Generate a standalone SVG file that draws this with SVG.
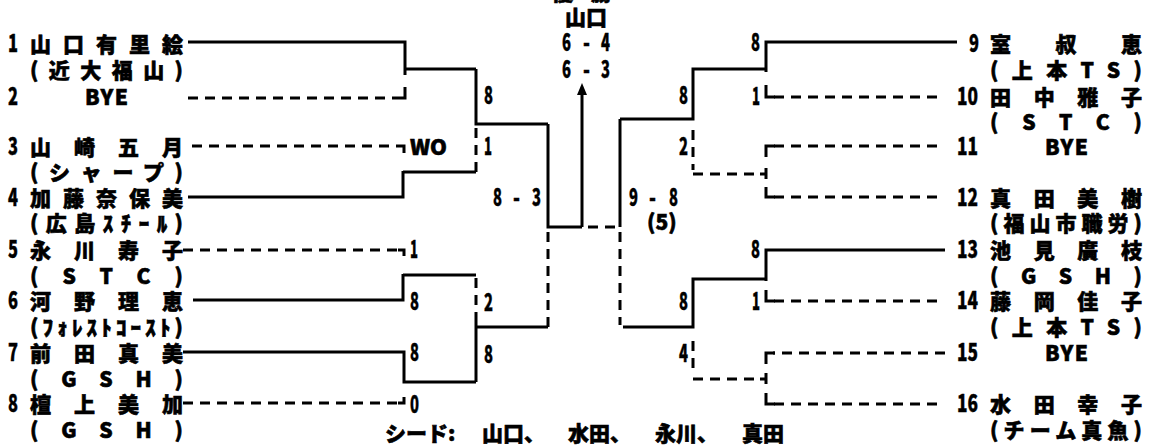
<svg xmlns="http://www.w3.org/2000/svg" width="1156" height="448" viewBox="0 0 1156 448">
<defs>
<style>
.t{font-family:"Noto Sans CJK JP","Noto Sans",sans-serif;font-weight:900;font-size:21px;fill:#000;stroke:#000;stroke-width:0.6}
.n{font-family:"Noto Sans CJK JP","Noto Sans",sans-serif;font-weight:900;font-size:24px;fill:#000;stroke:#000;stroke-width:0.4}
.m{text-anchor:middle}
.s{fill:none;stroke:#000;stroke-width:3}
.d{fill:none;stroke:#000;stroke-width:3;stroke-dasharray:10 7}
</style>
<marker id="arr" viewBox="0 0 12 10" refX="0" refY="5" markerWidth="12" markerHeight="10" markerUnits="userSpaceOnUse" orient="auto">
<path d="M0,0 L12,5 L0,10 Z" fill="#000"/>
</marker>
</defs>
<rect width="1156" height="448" fill="#fff"/>

<g id="connectors">
<path class="s" d="M188,42 H405 V75"/>
<path class="d" d="M188,98 H398"/>
<path class="s" d="M398,98 H405 V87"/>
<path class="s" d="M405,69 H476"/>
<path class="d" d="M192,146 H398"/>
<path class="s" d="M398,146 H404 V153"/>
<path class="s" d="M188,197 H403 V171"/>
<path class="s" d="M403,172 H476"/>
<path class="s" d="M476,69 V124 H548"/>
<path class="d" d="M476,128 V172"/>
<path class="d" d="M183,250 H398"/>
<path class="s" d="M398,250 H404 V256"/>
<path class="s" d="M193,300 H403 V274"/>
<path class="s" d="M403,275 H476"/>
<path class="s" d="M183,352 H404 V382 H476"/>
<path class="d" d="M183,403 H398"/>
<path class="s" d="M398,403 H404 V397"/>
<path class="d" d="M476,278 V320"/>
<path class="s" d="M476,320 V382"/>
<path class="s" d="M476,327 H548"/>
<path class="s" d="M548,124 V227 H582"/>
<path class="d" d="M548,232 V327"/>
<path class="s" d="M582,227 V95" marker-end="url(#arr)"/>
<path class="d" d="M588,227 H620"/>
<path class="s" d="M620,119 V227"/>
<path class="d" d="M620,232 V325"/>
<path class="s" d="M620,119 H693 V69 H766"/>
<path class="s" d="M623,327 H693 V279 H766"/>
<path class="d" d="M693,130 V170"/>
<path class="d" d="M693,341 V375"/>
<path class="s" d="M957,42 H766 V72"/>
<path class="d" d="M937,97 H773"/>
<path class="s" d="M775,97 H766 V85"/>
<path class="d" d="M693,174 H760"/>
<path class="s" d="M760,174 H766 M766,168 V179"/>
<path class="d" d="M937,146 H773"/>
<path class="s" d="M775,146 H766 V157"/>
<path class="d" d="M937,197 H773"/>
<path class="s" d="M775,197 H766 V187"/>
<path class="s" d="M945,250 H766 V281"/>
<path class="d" d="M937,301 H773"/>
<path class="s" d="M775,301 H766 V290"/>
<path class="d" d="M693,379 H760"/>
<path class="s" d="M760,379 H766 M766,373 V384"/>
<path class="d" d="M945,353 H773"/>
<path class="s" d="M775,353 H766 V364"/>
<path class="d" d="M937,404 H773"/>
<path class="s" d="M775,404 H766 V393"/>
</g>

<g id="p1"><text class="n" x="8" y="52" textLength="10" lengthAdjust="spacingAndGlyphs">1</text><text class="t" x="30" y="52" textLength="153" lengthAdjust="spacing">山口有里絵</text><text class="t" x="30" y="78" textLength="153" lengthAdjust="spacing">(近大福山)</text></g>
<g id="p2"><text class="n" x="8" y="105" textLength="10" lengthAdjust="spacingAndGlyphs">2</text><text class="t" x="85" y="105" textLength="43" lengthAdjust="spacing">BYE</text></g>
<g id="p3"><text class="n" x="8" y="155" textLength="10" lengthAdjust="spacingAndGlyphs">3</text><text class="t" x="30" y="155" textLength="153" lengthAdjust="spacing">山崎五月</text><text class="t" x="30" y="180" textLength="153" lengthAdjust="spacing">(シャープ)</text></g>
<g id="p4"><text class="n" x="8" y="206" textLength="10" lengthAdjust="spacingAndGlyphs">4</text><text class="t" x="30" y="206" textLength="153" lengthAdjust="spacing">加藤奈保美</text><text class="t" x="30" y="231" textLength="153" lengthAdjust="spacing">(広島ｽﾁｰﾙ)</text></g>
<g id="p5"><text class="n" x="8" y="258" textLength="10" lengthAdjust="spacingAndGlyphs">5</text><text class="t" x="30" y="258" textLength="153" lengthAdjust="spacing">永川寿子</text><text class="t" x="30" y="284" textLength="153" lengthAdjust="spacing">(STC)</text></g>
<g id="p6"><text class="n" x="8" y="309" textLength="10" lengthAdjust="spacingAndGlyphs">6</text><text class="t" x="30" y="309" textLength="153" lengthAdjust="spacing">河野理恵</text><text class="t" x="30" y="335" textLength="153" lengthAdjust="spacing">(ﾌｫﾚｽﾄｺｰｽﾄ)</text></g>
<g id="p7"><text class="n" x="8" y="361" textLength="10" lengthAdjust="spacingAndGlyphs">7</text><text class="t" x="30" y="361" textLength="153" lengthAdjust="spacing">前田真美</text><text class="t" x="30" y="387" textLength="153" lengthAdjust="spacing">(GSH)</text></g>
<g id="p8"><text class="n" x="8" y="412" textLength="10" lengthAdjust="spacingAndGlyphs">8</text><text class="t" x="30" y="412" textLength="153" lengthAdjust="spacing">檀上美加</text><text class="t" x="30" y="438" textLength="153" lengthAdjust="spacing">(GSH)</text></g>

<g id="p9"><text class="n" x="969" y="52" textLength="10" lengthAdjust="spacingAndGlyphs">9</text><text class="t" x="990" y="52" textLength="152" lengthAdjust="spacing">室叔恵</text><text class="t" x="990" y="78" textLength="152" lengthAdjust="spacing">(上本TS)</text></g>
<g id="p10"><text class="n" x="957" y="105" textLength="21" lengthAdjust="spacingAndGlyphs">10</text><text class="t" x="990" y="105" textLength="152" lengthAdjust="spacing">田中雅子</text><text class="t" x="990" y="130" textLength="152" lengthAdjust="spacing">(STC)</text></g>
<g id="p11"><text class="n" x="957" y="155" textLength="21" lengthAdjust="spacingAndGlyphs">11</text><text class="t" x="1045" y="155" textLength="43" lengthAdjust="spacing">BYE</text></g>
<g id="p12"><text class="n" x="957" y="206" textLength="21" lengthAdjust="spacingAndGlyphs">12</text><text class="t" x="990" y="206" textLength="152" lengthAdjust="spacing">真田美樹</text><text class="t" x="990" y="231" textLength="152" lengthAdjust="spacing">(福山市職労)</text></g>
<g id="p13"><text class="n" x="957" y="258" textLength="21" lengthAdjust="spacingAndGlyphs">13</text><text class="t" x="990" y="258" textLength="152" lengthAdjust="spacing">池見廣枝</text><text class="t" x="990" y="284" textLength="152" lengthAdjust="spacing">(GSH)</text></g>
<g id="p14"><text class="n" x="957" y="309" textLength="21" lengthAdjust="spacingAndGlyphs">14</text><text class="t" x="990" y="309" textLength="152" lengthAdjust="spacing">藤岡佳子</text><text class="t" x="990" y="335" textLength="152" lengthAdjust="spacing">(上本TS)</text></g>
<g id="p15"><text class="n" x="957" y="361" textLength="21" lengthAdjust="spacingAndGlyphs">15</text><text class="t" x="1045" y="361" textLength="43" lengthAdjust="spacing">BYE</text></g>
<g id="p16"><text class="n" x="957" y="412" textLength="21" lengthAdjust="spacingAndGlyphs">16</text><text class="t" x="990" y="412" textLength="152" lengthAdjust="spacing">水田幸子</text><text class="t" x="990" y="438" textLength="152" lengthAdjust="spacing">(チーム真魚)</text></g>

<g id="scores">
<text class="t" x="410" y="155" textLength="37" lengthAdjust="spacingAndGlyphs">WO</text>
<text class="n" x="410" y="258" textLength="8" lengthAdjust="spacingAndGlyphs">1</text>
<text class="n" x="410" y="310" textLength="9" lengthAdjust="spacingAndGlyphs">8</text>
<text class="n" x="410" y="361" textLength="9" lengthAdjust="spacingAndGlyphs">8</text>
<text class="n" x="410" y="413" textLength="9" lengthAdjust="spacingAndGlyphs">0</text>
<text class="n" x="484" y="104" textLength="9" lengthAdjust="spacingAndGlyphs">8</text>
<text class="n" x="484" y="155" textLength="8" lengthAdjust="spacingAndGlyphs">1</text>
<text class="n" x="484" y="311" textLength="9" lengthAdjust="spacingAndGlyphs">2</text>
<text class="n" x="484" y="363" textLength="9" lengthAdjust="spacingAndGlyphs">8</text>
<text class="n" x="493" y="206" textLength="9" lengthAdjust="spacingAndGlyphs">8</text>
<text class="n" x="513" y="206" textLength="7" lengthAdjust="spacingAndGlyphs">-</text>
<text class="n" x="532" y="206" textLength="9" lengthAdjust="spacingAndGlyphs">3</text>
<text class="n" x="629" y="206" textLength="9" lengthAdjust="spacingAndGlyphs">9</text>
<text class="n" x="649" y="206" textLength="7" lengthAdjust="spacingAndGlyphs">-</text>
<text class="n" x="669" y="206" textLength="9" lengthAdjust="spacingAndGlyphs">8</text>
<text class="t" x="647" y="230">(5)</text>
<text class="n" x="679" y="104" textLength="9" lengthAdjust="spacingAndGlyphs">8</text>
<text class="n" x="679" y="155" textLength="9" lengthAdjust="spacingAndGlyphs">2</text>
<text class="n" x="679" y="310" textLength="9" lengthAdjust="spacingAndGlyphs">8</text>
<text class="n" x="679" y="362" textLength="9" lengthAdjust="spacingAndGlyphs">4</text>
<text class="n" x="751" y="51" textLength="9" lengthAdjust="spacingAndGlyphs">8</text>
<text class="n" x="752" y="105" textLength="8" lengthAdjust="spacingAndGlyphs">1</text>
<text class="n" x="751" y="258" textLength="9" lengthAdjust="spacingAndGlyphs">8</text>
<text class="n" x="752" y="310" textLength="8" lengthAdjust="spacingAndGlyphs">1</text>
</g>

<g id="final">
<text class="t" x="552" y="0" textLength="60" lengthAdjust="spacing">優 勝</text>
<text class="t m" x="586" y="25">山口</text>
<text class="n" x="562" y="51" textLength="9" lengthAdjust="spacingAndGlyphs">6</text>
<text class="n" x="583" y="51" textLength="7" lengthAdjust="spacingAndGlyphs">-</text>
<text class="n" x="601" y="51" textLength="9" lengthAdjust="spacingAndGlyphs">4</text>
<text class="n" x="562" y="78" textLength="9" lengthAdjust="spacingAndGlyphs">6</text>
<text class="n" x="583" y="78" textLength="7" lengthAdjust="spacingAndGlyphs">-</text>
<text class="n" x="601" y="78" textLength="9" lengthAdjust="spacingAndGlyphs">3</text>
</g>

<g id="seeds">
<text class="t" x="385" y="441">シード:</text>
<text class="t" x="482" y="441">山口、</text>
<text class="t" x="568" y="441">水田、</text>
<text class="t" x="655" y="441">永川、</text>
<text class="t" x="742" y="441">真田</text>
</g>
</svg>
